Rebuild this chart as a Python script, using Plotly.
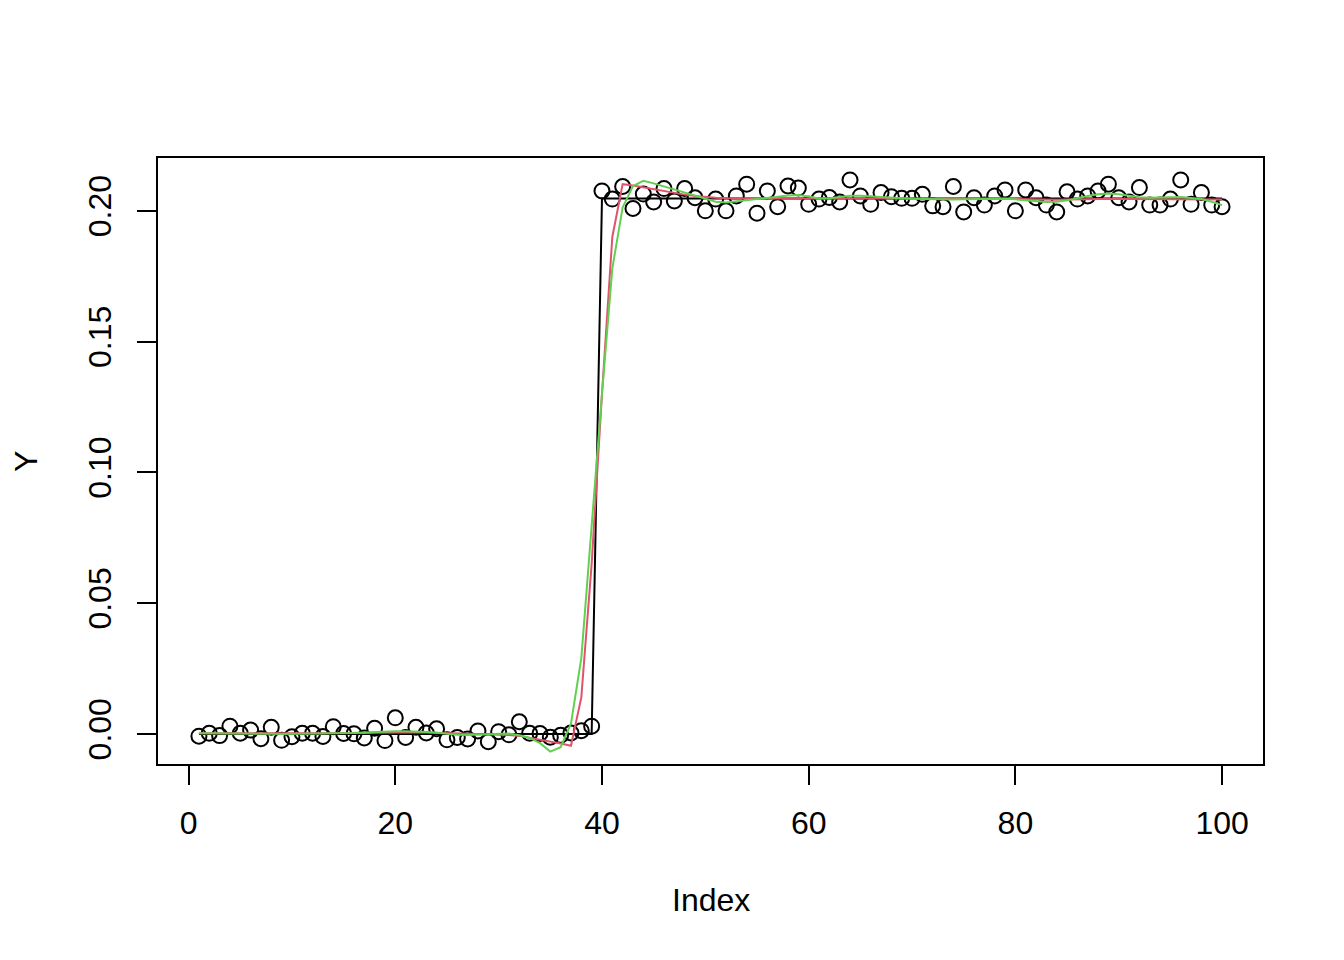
## step signal with noisy observations and two smoothed fits

import plotly.graph_objects as go

# index of the observations
index = list(range(1, 101))

# observed values (open circles)
y_obs = [
    -0.0008, 0.0003, -0.0006, 0.0030, 0.0003, 0.0015, -0.0018, 0.0026, -0.0024, -0.0010,
    0.0003, 0.0003, -0.0009, 0.0028, 0.0002, 0.0001, -0.0015, 0.0022, -0.0025, 0.0062,
    -0.0013, 0.0026, 0.0004, 0.0020, -0.0022, -0.0013, -0.0019, 0.0012, -0.0029, 0.0009,
    -0.0003, 0.0047, 0.0003, 0.0002, -0.0012, -0.0005, 0.0004, 0.0013, 0.0030, 0.2076,
    0.2045, 0.2093, 0.2009, 0.2064, 0.2034, 0.2085, 0.2038, 0.2085, 0.2050, 0.2000,
    0.2045, 0.2000, 0.2057, 0.2102, 0.1991, 0.2076, 0.2016, 0.2095, 0.2087, 0.2025,
    0.2045, 0.2051, 0.2034, 0.2118, 0.2057, 0.2025, 0.2070, 0.2054, 0.2048, 0.2048,
    0.2063, 0.2019, 0.2016, 0.2093, 0.1996, 0.2050, 0.2022, 0.2057, 0.2080, 0.2000,
    0.2080, 0.2050, 0.2022, 0.1996, 0.2073, 0.2045, 0.2057, 0.2076, 0.2102, 0.2050,
    0.2034, 0.2089, 0.2022, 0.2022, 0.2045, 0.2118, 0.2025, 0.2070, 0.2022, 0.2016,
]

# true step signal (black line)
y_true = [0.0] * 39 + [0.2047] * 61

# first smoother (red line)
y_fit1 = [
    0.0003, 0.0003, 0.0004, 0.0004, 0.0004, 0.0004, 0.0003, 0.0003, 0.0002, 0.0002,
    0.0002, 0.0002, 0.0002, 0.0003, 0.0003, 0.0003, 0.0004, 0.0005, 0.0006, 0.0007,
    0.0007, 0.0007, 0.0006, 0.0005, 0.0003, 0.0001, 0.0000, -0.0001, -0.0002, -0.0003,
    -0.0004, -0.0007, -0.0014, -0.0023, -0.0030, -0.0036, -0.0045, 0.0140, 0.0650, 0.1300,
    0.1900, 0.2102, 0.2097, 0.2090, 0.2082, 0.2075, 0.2068, 0.2062, 0.2057, 0.2053,
    0.2050, 0.2048, 0.2047, 0.2047, 0.2047, 0.2047, 0.2047, 0.2048, 0.2048, 0.2047,
    0.2047, 0.2047, 0.2047, 0.2047, 0.2047, 0.2047, 0.2047, 0.2047, 0.2047, 0.2047,
    0.2047, 0.2047, 0.2047, 0.2047, 0.2047, 0.2047, 0.2047, 0.2047, 0.2047, 0.2045,
    0.2044, 0.2043, 0.2042, 0.2042, 0.2043, 0.2044, 0.2045, 0.2046, 0.2046, 0.2046,
    0.2045, 0.2045, 0.2045, 0.2044, 0.2044, 0.2044, 0.2043, 0.2043, 0.2043, 0.2043,
]

# second smoother (green line)
y_fit2 = [
    0.0003, 0.0003, 0.0003, 0.0003, 0.0003, 0.0002, 0.0002, 0.0001, 0.0000, 0.0000,
    0.0000, 0.0001, 0.0002, 0.0003, 0.0003, 0.0004, 0.0006, 0.0008, 0.0010, 0.0011,
    0.0011, 0.0010, 0.0008, 0.0005, 0.0001, -0.0003, -0.0004, -0.0003, -0.0002, 0.0001,
    0.0002, -0.0005, -0.0015, -0.0035, -0.0067, -0.0050, 0.0040, 0.0290, 0.0800, 0.1300,
    0.1780, 0.2013, 0.2095, 0.2115, 0.2105, 0.2093, 0.2080, 0.2068, 0.2057, 0.2045,
    0.2035, 0.2032, 0.2036, 0.2041, 0.2045, 0.2049, 0.2054, 0.2059, 0.2061, 0.2055,
    0.2047, 0.2048, 0.2053, 0.2058, 0.2058, 0.2055, 0.2052, 0.2050, 0.2048, 0.2046,
    0.2045, 0.2043, 0.2042, 0.2043, 0.2044, 0.2045, 0.2045, 0.2046, 0.2046, 0.2044,
    0.2040, 0.2037, 0.2034, 0.2035, 0.2040, 0.2048, 0.2057, 0.2063, 0.2066, 0.2063,
    0.2057, 0.2052, 0.2050, 0.2050, 0.2052, 0.2053, 0.2050, 0.2045, 0.2035, 0.2022,
]

# tick labels
x_ticks = [0, 20, 40, 60, 80, 100]
y_ticks = [0.0, 0.05, 0.10, 0.15, 0.20]
y_tick_text = ["0.00", "0.05", "0.10", "0.15", "0.20"]

font = dict(family="Liberation Sans, Arial, sans-serif", size=32, color="black")

fig = go.Figure()

# points first, then the lines on top (like base R plot + lines)
fig.add_trace(go.Scatter(
    x=index, y=y_obs, mode="markers",
    marker=dict(symbol="circle-open", size=15, color="black", line=dict(width=2, color="black")),
    showlegend=False,
))
fig.add_trace(go.Scatter(x=index, y=y_true, mode="lines",
                         line=dict(color="black", width=2), showlegend=False))
fig.add_trace(go.Scatter(x=index, y=y_fit1, mode="lines",
                         line=dict(color="#DF536B", width=2), showlegend=False))
fig.add_trace(go.Scatter(x=index, y=y_fit2, mode="lines",
                         line=dict(color="#61D04F", width=2), showlegend=False))

# margins are reduced by the 8px page offset so the box lands where R put it
fig.update_layout(
    width=1344, height=960,
    margin=dict(l=149.5, r=88.5, t=149.5, b=203.5),
    plot_bgcolor="white", paper_bgcolor="white",
    font=font,
    annotations=[
        dict(text="Index", x=0.5, y=-0.224, xref="paper", yref="paper",
             xanchor="center", yanchor="middle", showarrow=False, font=font),
        dict(text="Y", x=-0.1195, y=0.5, xref="paper", yref="paper", textangle=-90,
             xanchor="center", yanchor="middle", showarrow=False, font=font),
    ],
)

fig.update_xaxes(
    range=[-2.96, 103.96], tickvals=x_ticks, ticks="outside", ticklen=19, tickwidth=2,
    tickcolor="black", showline=True, linewidth=2, linecolor="black", mirror=True,
    showgrid=False, zeroline=False, ticklabelstandoff=11, tickfont=font,
)
fig.update_yaxes(
    range=[-0.01145, 0.2202], tickvals=y_ticks, ticktext=y_tick_text, tickangle=-90,
    ticks="outside", ticklen=19, tickwidth=2, tickcolor="black",
    showline=True, linewidth=2, linecolor="black", mirror=True,
    showgrid=False, zeroline=False, ticklabelstandoff=13, tickfont=font,
)

fig.write_html("out.html")
